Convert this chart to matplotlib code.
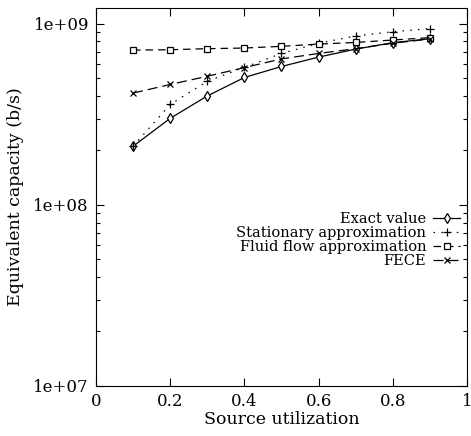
import matplotlib
matplotlib.use("Agg")
import matplotlib.pyplot as plt
from matplotlib.ticker import FixedLocator, LogLocator, NullFormatter

x = [0.1, 0.2, 0.3, 0.4, 0.5, 0.6, 0.7, 0.8, 0.9]
exact = [2.11e8, 3.01e8, 4.0e8, 5.06e8, 5.82e8, 6.56e8, 7.26e8, 7.88e8, 8.28e8]
stationary = [2.11e8, 3.59e8, 4.82e8, 5.76e8, 6.87e8, 7.82e8, 8.58e8, 9.06e8, 9.42e8]
fluid = [7.17e8, 7.2e8, 7.3e8, 7.36e8, 7.52e8, 7.74e8, 7.9e8, 8.15e8, 8.4e8]
fece = [4.15e8, 4.63e8, 5.14e8, 5.74e8, 6.41e8, 6.87e8, 7.3e8, 7.82e8, 8.26e8]

plt.rcParams["font.family"] = ["DejaVu Serif"]
plt.rcParams["font.size"] = 12

fig = plt.figure(figsize=(4.71, 4.36), dpi=100)
ax = fig.add_axes([0.2038, 0.1147, 0.7877, 0.867])

lw = 0.9
ax.plot(x, exact, color="black", lw=lw, ls="-", marker="d", ms=5, mfc="white", mew=0.9,
        label="Exact value")
ax.plot(x, stationary, color="black", lw=lw, ls=(0, (1.2, 5)), marker="+", ms=6, mew=0.9,
        label="Stationary approximation")
ax.plot(x, fluid, color="black", lw=lw, ls=(0, (6, 4)), marker="s", ms=5, mfc="white", mew=0.9,
        label="Fluid flow approximation")
ax.plot(x, fece, color="black", lw=lw, ls=(0, (8, 4)), marker="x", ms=5, mew=0.9,
        label="FECE")

ax.set_yscale("log")
ax.set_xlim(0, 1)
ax.set_ylim(1e7, 1.225e9)
ax.xaxis.set_major_locator(FixedLocator([0, 0.2, 0.4, 0.6, 0.8, 1]))
ax.set_xticklabels(["0", "0.2", "0.4", "0.6", "0.8", "1"])
ax.yaxis.set_major_locator(FixedLocator([1e7, 1e8, 1e9]))
ax.set_yticklabels(["1e+07", "1e+08", "1e+09"])
ax.yaxis.set_minor_locator(LogLocator(base=10, subs=range(2, 10)))
ax.yaxis.set_minor_formatter(NullFormatter())

ax.tick_params(which="both", direction="in", top=True, right=True, width=0.8)
ax.tick_params(which="major", length=6, pad=5)
ax.tick_params(which="minor", length=3)
for s in ax.spines.values():
    s.set_linewidth(0.8)

ax.set_xlabel("Source utilization", labelpad=1, fontsize=12.5)
ax.set_ylabel("Equivalent capacity (b/s)", labelpad=7, fontsize=12.5)

ax.legend(loc="center right", bbox_to_anchor=(1.0, 0.386), frameon=False, markerfirst=False,
          handlelength=1.8, handletextpad=0.5, labelspacing=0.0, borderaxespad=0.1,
          fontsize=10.5)

fig.savefig("out.png", dpi=100)
